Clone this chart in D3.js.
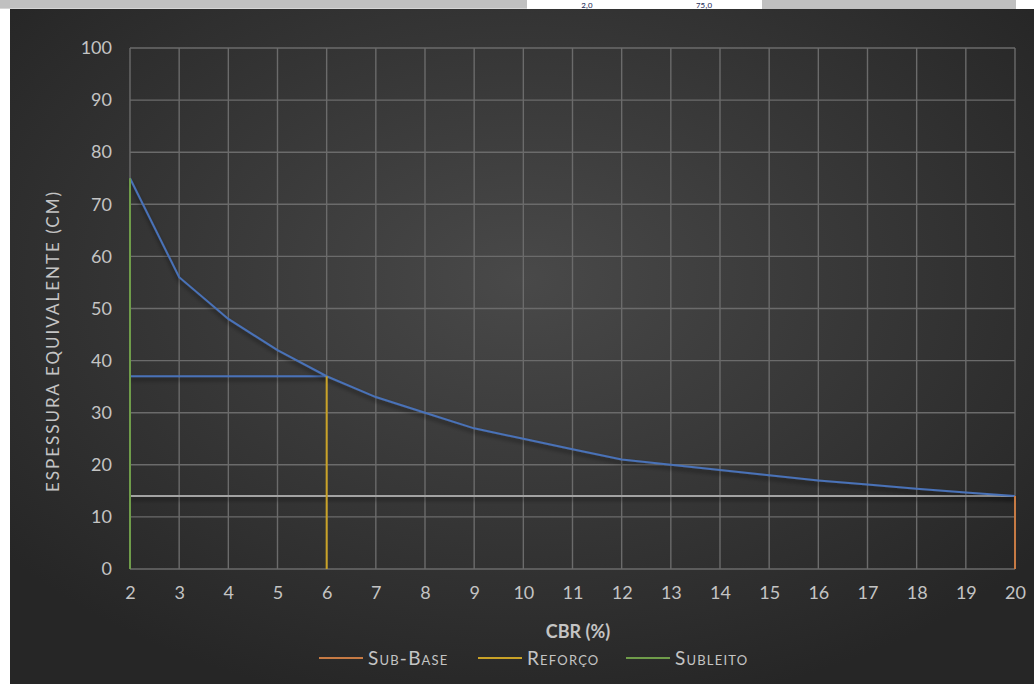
<!DOCTYPE html>
<html><head><meta charset="utf-8">
<script src="https://cdn.jsdelivr.net/npm/d3@7"></script>
<style>
html,body{margin:0;padding:0;background:#fff;}
svg{display:block;}
</style></head>
<body>
<script>
// ---- data ----
const cbr = [2,3,4,5,6,7,8,9,10,11,12,13,14,15,16,17,18,19,20];
const espessura = [75,56,48,42,37,33,30,27,25,23,21,20,19,18,17,16.2,15.4,14.7,14];
const subBaseX = [20,20], subBaseY = [0,14];
const reforcoX = [6,6], reforcoY = [0,37];
const subleitoX = [2,2], subleitoY = [0,75];
const guide37X = [2,6], guide37Y = [37,37];
const guide14X = [2,20], guide14Y = [14,14];
const yTicks = [0,10,20,30,40,50,60,70,80,90,100];
const xTicks = cbr;
const legendNames = ["Sub-Base","Reforço","Subleito"];
const cellTexts = ["2,0","75,0"];
const xTitle = "CBR (%)";
const yTitle = "ESPESSURA EQUIVALENTE (CM)";

const W = 1034, H = 684;
const svg = d3.select("body").append("svg").attr("width",W).attr("height",H);
const defs = svg.append("defs");
const grad = defs.append("radialGradient").attr("id","bg")
  .attr("cx","50%").attr("cy","40%").attr("r","65%");
grad.append("stop").attr("offset","0%").attr("stop-color","#494949");
grad.append("stop").attr("offset","100%").attr("stop-color","#262626");
const sh = defs.append("filter").attr("id","shadow").attr("filterUnits","userSpaceOnUse")
  .attr("x",0).attr("y",0).attr("width",W).attr("height",H);
sh.append("feDropShadow").attr("dx",0).attr("dy",3).attr("stdDeviation",2).attr("flood-color","#000").attr("flood-opacity",0.55);

// spreadsheet surroundings
svg.append("rect").attr("x",0).attr("y",0).attr("width",W).attr("height",9).attr("fill","#c0c0c0");
svg.append("rect").attr("x",0).attr("y",8).attr("width",527).attr("height",1).attr("fill","#d6d6d6");
svg.append("rect").attr("x",527).attr("y",0).attr("width",235).attr("height",9).attr("fill","#ffffff");
svg.append("rect").attr("x",1016).attr("y",0).attr("width",18).attr("height",9).attr("fill","#ffffff");
svg.append("rect").attr("x",0).attr("y",9).attr("width",10).attr("height",H-9).attr("fill","#ffffff");
svg.selectAll("text.cell").data(cellTexts).join("text").attr("class","cell")
  .attr("x",(d,i)=>[587,704][i]).attr("y",8).attr("text-anchor","middle")
  .attr("font-family","Carlito, 'Liberation Sans', sans-serif").attr("font-size",9).attr("fill","#1f2f5a").text(d=>d);

// chart area
svg.append("rect").attr("x",10).attr("y",9).attr("width",W-10).attr("height",H-9).attr("fill","url(#bg)");

const x = d3.scaleLinear().domain([2,20]).range([130,1015]);
const y = d3.scaleLinear().domain([0,100]).range([569,48]);
const font = "Lato, 'Open Sans', sans-serif";
const textCol = "#c4c4c4";

// gridlines
const g = svg.append("g");
g.selectAll("line.h").data(yTicks).join("line").attr("class","h")
  .attr("x1",x(2)).attr("x2",x(20)).attr("y1",d=>y(d)).attr("y2",d=>y(d))
  .attr("stroke","#6b6b6b").attr("stroke-width",1.4);
g.selectAll("line.v").data(xTicks).join("line").attr("class","v")
  .attr("y1",y(0)).attr("y2",y(100)).attr("x1",d=>x(d)).attr("x2",d=>x(d))
  .attr("stroke","#6b6b6b").attr("stroke-width",1.4);

// axes
const xAxis = svg.append("g").attr("transform",`translate(0,${y(0)})`)
  .call(d3.axisBottom(x).tickValues(xTicks).tickSize(0).tickPadding(17).tickFormat(d3.format("d")));
const yAxis = svg.append("g").attr("transform",`translate(${x(2)},0)`)
  .call(d3.axisLeft(y).tickValues(yTicks).tickSize(0).tickPadding(18).tickFormat(d3.format("d")));
[xAxis,yAxis].forEach(a=>{
  a.select(".domain").remove();
  a.selectAll("text").attr("fill",textCol).attr("font-family",font).attr("font-size",18);
});

// series
const line = d3.line().x(d=>x(d[0])).y(d=>y(d[1]));
const zip = (a,b)=>a.map((v,i)=>[v,b[i]]);
svg.append("path").datum(zip(guide14X,guide14Y)).attr("d",line).attr("fill","none")
  .attr("stroke","#a3a3a3").attr("stroke-width",2).attr("filter","url(#shadow)");
svg.append("path").datum(zip(guide37X,guide37Y)).attr("d",line).attr("fill","none")
  .attr("stroke","#4a72b8").attr("stroke-width",2).attr("filter","url(#shadow)");
svg.append("path").datum(zip(cbr,espessura)).attr("d",line).attr("fill","none")
  .attr("stroke","#4a72b8").attr("stroke-width",2).attr("filter","url(#shadow)");

const seriesCols = ["#c67a44","#c9a227","#6f9c4a"];
const vData = [zip(subBaseX,subBaseY), zip(reforcoX,reforcoY), zip(subleitoX,subleitoY)];
svg.selectAll("path.v").data(vData).join("path").attr("class","v").attr("d",line)
  .attr("fill","none").attr("stroke",(d,i)=>seriesCols[i]).attr("stroke-width",2);

// titles
svg.append("text").attr("x",578).attr("y",638).attr("text-anchor","middle")
  .attr("font-family",font).attr("font-weight","bold").attr("font-size",18).attr("fill",textCol).text(xTitle);
svg.append("text").attr("transform","translate(59,341) rotate(-90)").attr("text-anchor","middle")
  .attr("font-family",font).attr("font-size",17).attr("letter-spacing",2).attr("fill",textCol).text(yTitle);

// legend
const legX = [319,478,626];
const leg = svg.selectAll("g.leg").data(legendNames).join("g").attr("class","leg")
  .attr("transform",(d,i)=>`translate(${legX[i]},658)`);
leg.append("line").attr("x1",0).attr("x2",44).attr("y1",0).attr("y2",0)
  .attr("stroke",(d,i)=>seriesCols[i]).attr("stroke-width",2);
leg.append("text").attr("x",49).attr("y",7).attr("font-family",font).attr("font-size",19)
  .attr("font-variant","small-caps").attr("letter-spacing",1.2).attr("fill",textCol).text(d=>d);
</script>
</body></html>
